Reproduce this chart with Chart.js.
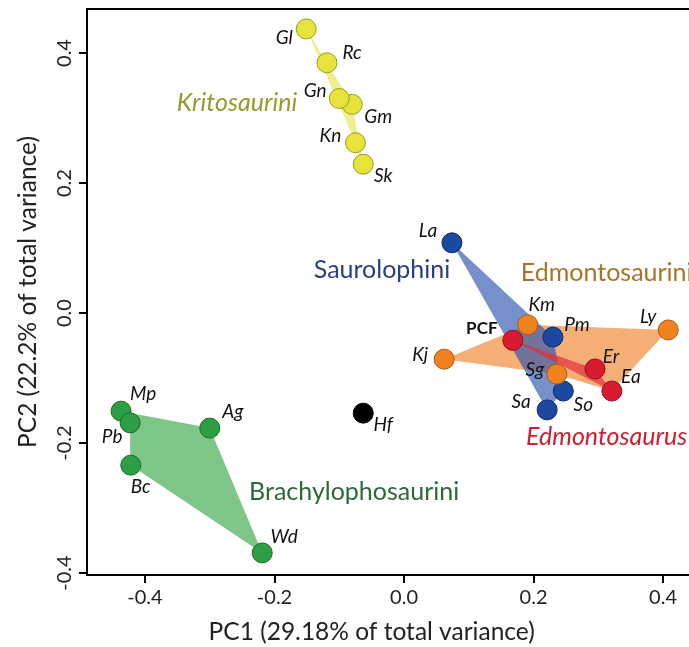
<!DOCTYPE html>
<html>
<head>
<meta charset="utf-8">
<script src="https://cdn.jsdelivr.net/npm/chart.js@4/dist/chart.umd.min.js"></script>
<style>
  html, body { margin: 0; padding: 0; background: #fff; }
  #wrap { width: 689px; height: 647px; }
</style>
</head>
<body>
<div id="wrap"><canvas id="pcaChart"></canvas></div>
<script>
// Kritosaurini
const kritoNames = ['Gl', 'Rc', 'Gm', 'Gn', 'Kn', 'Sk'];
const kritoPC1 = [-0.151, -0.119, -0.080, -0.100, -0.075, -0.063];
const kritoPC2 = [0.437, 0.385, 0.321, 0.330, 0.262, 0.229];
const kritoHull = ['Gl', 'Rc', 'Gm', 'Sk', 'Kn'];

// Saurolophini
const sauroNames = ['La', 'Pm', 'So', 'Sa'];
const sauroPC1 = [0.074, 0.230, 0.246, 0.221];
const sauroPC2 = [0.108, -0.037, -0.120, -0.149];
const sauroHull = ['La', 'Pm', 'So', 'Sa'];

// Edmontosaurini (other than Edmontosaurus)
const edmNames = ['Km', 'Ly', 'Kj', 'Sg'];
const edmPC1 = [0.191, 0.408, 0.062, 0.236];
const edmPC2 = [-0.018, -0.026, -0.071, -0.094];
const edmHull = ['Kj', 'Km', 'Ly', 'Ea', 'Sg'];

// Edmontosaurus
const edmoNames = ['PCF', 'Er', 'Ea'];
const edmoPC1 = [0.168, 0.295, 0.321];
const edmoPC2 = [-0.042, -0.086, -0.120];
const edmoHull = ['PCF', 'Er', 'Ea'];

// Brachylophosaurini
const brachyNames = ['Mp', 'Pb', 'Ag', 'Bc', 'Wd'];
const brachyPC1 = [-0.437, -0.423, -0.300, -0.422, -0.219];
const brachyPC2 = [-0.151, -0.169, -0.177, -0.234, -0.369];
const brachyHull = ['Mp', 'Ag', 'Wd', 'Bc', 'Pb'];

// Hf
const otherNames = ['Hf'];
const otherPC1 = [-0.063];
const otherPC2 = [-0.154];

const tickValues = [-0.4, -0.2, 0.0, 0.2, 0.4];

document.addEventListener("DOMContentLoaded", function () {
    const ctx = document.getElementById('pcaChart')?.getContext('2d');
    if (!ctx) {
        console.error("Error: canvas not found");
        return;
    }

    const FONT = 'Lato';

    // lookup of every specimen
    const all = {};
    function addGroup(names, xs, ys) {
        names.forEach((n, i) => { all[n] = { x: xs[i], y: ys[i] }; });
    }
    addGroup(kritoNames, kritoPC1, kritoPC2);
    addGroup(sauroNames, sauroPC1, sauroPC2);
    addGroup(edmNames, edmPC1, edmPC2);
    addGroup(edmoNames, edmoPC1, edmoPC2);
    addGroup(brachyNames, brachyPC1, brachyPC2);
    addGroup(otherNames, otherPC1, otherPC2);

    function pts(names) {
        return names.map(n => ({ x: all[n].x, y: all[n].y, name: n }));
    }
    function hull(names) {
        const p = pts(names);
        p.push(p[0]);
        return p;
    }

    function pointSet(names, fill, border) {
        return {
            data: pts(names),
            backgroundColor: fill,
            borderColor: border,
            borderWidth: 1,
            pointRadius: 10,
            pointHoverRadius: 10,
            order: 1
        };
    }
    function polySet(names, fill, ord) {
        return {
            data: hull(names),
            showLine: true,
            fill: 'shape',
            backgroundColor: fill,
            borderColor: fill,
            borderWidth: 0,
            pointRadius: 0,
            pointHoverRadius: 0,
            tension: 0,
            order: ord
        };
    }

    const datasets = [
        pointSet(edmNames, '#f08220', '#a85a12'),
        pointSet(edmoNames, '#d81b30', '#8e1020'),
        pointSet(sauroNames, '#1d48a0', '#0d2a6c'),
        pointSet(kritoNames, '#e6e43a', '#9c9a22'),
        pointSet(brachyNames, '#2e9e44', '#1c6a2a'),
        pointSet(otherNames, '#000000', '#000000'),
        polySet(edmoHull, 'rgba(228, 45, 60, 0.7)', 2),
        polySet(sauroHull, 'rgba(45, 85, 175, 0.65)', 3),
        polySet(edmHull, 'rgba(240, 130, 45, 0.65)', 4),
        polySet(kritoHull, 'rgba(232, 232, 95, 0.7)', 4),
        polySet(brachyHull, 'rgba(65, 170, 80, 0.68)', 4)
    ];

    // label offsets in px from the point centre
    const labelOffsets = {
        Gl: [-22, 9], Rc: [25, -10], Gn: [-24, -8], Gm: [26, 13], Kn: [-25, -7], Sk: [20, 12],
        La: [-24, -12], Km: [14, -20], PCF: [-31, -12], Pm: [24, -12], Ly: [-20, -13],
        Kj: [-24, -4], Er: [16, -12], Sg: [-22, -4], Ea: [19, -14], So: [20, 14], Sa: [-26, -8],
        Mp: [22, -17], Pb: [-18, 14], Ag: [23, -16], Bc: [10, 22], Wd: [22, -16], Hf: [20, 12]
    };

    const groupLabels = [
        { text: 'Kritosaurini', x: -0.258, y: 0.323, color: '#999a2c', italic: true },
        { text: 'Saurolophini', x: -0.034, y: 0.066, color: '#283f88', italic: false },
        { text: 'Edmontosaurini', x: 0.313, y: 0.062, color: '#a8742c', italic: false },
        { text: 'Edmontosaurus', x: 0.313, y: -0.191, color: '#cf1f2e', italic: true },
        { text: 'Brachylophosaurini', x: -0.077, y: -0.275, color: '#2b6a38', italic: false }
    ];

    const textPlugin = {
        id: 'textPlugin',
        afterDatasetsDraw(chart) {
            const c = chart.ctx;
            const xs = chart.scales.x, ys = chart.scales.y;
            c.save();
            c.textAlign = 'center';
            c.textBaseline = 'middle';
            c.fillStyle = '#111';
            Object.keys(labelOffsets).forEach(n => {
                const px = xs.getPixelForValue(all[n].x) + labelOffsets[n][0];
                const py = ys.getPixelForValue(all[n].y) + labelOffsets[n][1];
                c.font = n === 'PCF' ? 'bold 17px ' + FONT : 'italic 19px ' + FONT;
                c.fillText(n, px, py);
            });
            groupLabels.forEach(g => {
                c.font = (g.italic ? 'italic ' : '') + '25px ' + FONT;
                c.fillStyle = g.color;
                c.fillText(g.text, xs.getPixelForValue(g.x), ys.getPixelForValue(g.y));
            });
            // x axis title, placed as in the figure (left of the plot centre)
            c.font = '24.5px ' + FONT;
            c.fillStyle = '#222';
            c.fillText('PC1 (29.18% of total variance)', xs.getPixelForValue(-0.05), 632);
            c.restore();
        }
    };

    const fmt = v => Math.abs(v) < 1e-9 ? '0.0' : v.toFixed(1);

    new Chart(ctx, {
        type: 'scatter',
        data: { datasets: datasets },
        options: {
            responsive: true,
            maintainAspectRatio: false,
            animation: false,
            layout: { padding: 0, autoPadding: false },
            plugins: {
                legend: { display: false },
                tooltip: { enabled: false }
            },
            scales: {
                x: {
                    min: -0.4896,
                    max: 0.4401,
                    afterFit: s => { s.height = 72; s.paddingLeft = 0; s.paddingRight = 0; },
                    afterBuildTicks: s => { s.ticks = tickValues.map(v => ({ value: v })); },
                    border: { display: true, color: '#000', width: 2 },
                    grid: { drawOnChartArea: false, drawTicks: true, tickLength: 8, tickColor: '#000', lineWidth: 2 },
                    ticks: { callback: fmt, color: '#222', padding: 3, font: { family: FONT, size: 20 } }
                },
                xTop: {
                    type: 'linear',
                    position: 'top',
                    display: true,
                    min: -0.4896,
                    max: 0.4401,
                    afterFit: s => { s.height = 9; s.paddingLeft = 0; s.paddingRight = 0; },
                    border: { display: true, color: '#000', width: 2 },
                    grid: { drawOnChartArea: false, drawTicks: false },
                    ticks: { display: false }
                },
                y: {
                    min: -0.403,
                    max: 0.4677,
                    afterFit: s => { s.width = 87; s.paddingTop = 0; s.paddingBottom = 0; },
                    afterBuildTicks: s => { s.ticks = tickValues.map(v => ({ value: v })); },
                    border: { display: true, color: '#000', width: 2 },
                    grid: { drawOnChartArea: false, drawTicks: true, tickLength: 8, tickColor: '#000', lineWidth: 2 },
                    ticks: { callback: fmt, color: '#222', padding: -3, minRotation: 90, maxRotation: 90, crossAlign: 'center', font: { family: FONT, size: 20 } },
                    title: { display: true, text: 'PC2 (22.2% of total variance)', color: '#222', padding: { top: 13, bottom: 0 }, font: { family: FONT, size: 24.5 } }
                }
            }
        },
        plugins: [textPlugin]
    });
});
</script>
</body>
</html>
